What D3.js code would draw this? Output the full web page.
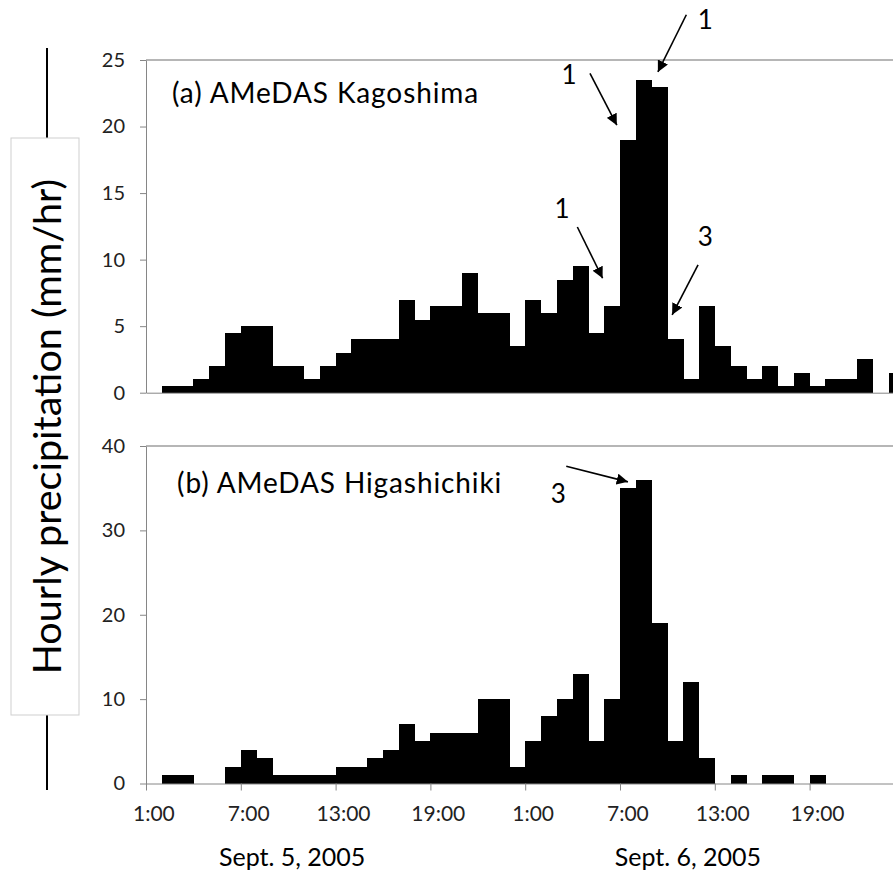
<!DOCTYPE html>
<html>
<head>
<meta charset="utf-8">
<script src="https://cdn.jsdelivr.net/npm/d3@7"></script>
<style>
  body { margin: 0; background: #fff; }
  svg { display: block; font-family: Lato, "Open Sans", sans-serif; }
</style>
</head>
<body>
<svg width="893" height="872"></svg>
<script>
// hourly bins starting 1:00 Sept 5 (48 hours)
const hours = d3.range(48).map(i => ((i + 1) % 24) + ":00");

const kagoshima = [0, 0.5, 0.5, 1, 2, 4.5, 5, 5, 2, 2, 1, 2, 3, 4, 4, 4,
  7, 5.5, 6.5, 6.5, 9, 6, 6, 3.5, 7, 6, 8.5, 9.5, 4.5, 6.5, 19, 23.5,
  23, 4, 1, 6.5, 3.5, 2, 1, 2, 0.5, 1.5, 0.5, 1, 1, 2.5, 0, 1.5];

const higashichiki = [0, 1, 1, 0, 0, 2, 4, 3, 1, 1, 1, 1, 2, 2, 3, 4,
  7, 5, 6, 6, 6, 10, 10, 2, 5, 8, 10, 13, 5, 10, 35, 36,
  19, 5, 12, 3, 0, 1, 0, 1, 1, 0, 1, 0, 0, 0, 0, 0];

const ticksA = [0, 5, 10, 15, 20, 25];
const ticksB = [0, 10, 20, 30, 40];
const dateLabels = [{ pos: 9.25, text: "Sept. 5, 2005" }, { pos: 34.3, text: "Sept. 6, 2005" }];

// annotations: [bin position, value] for label, arrow start, arrow tip
const notesA = [
  { t: "1", label: [26.77, 23.2], from: [28.1, 24.0], to: [29.8, 20.1] },
  { t: "1", label: [26.33, 13.1], from: [27.3, 12.45], to: [28.9, 8.6] },
  { t: "1", label: [35.4, 27.3], from: [34.2, 28.4], to: [32.4, 24.1] },
  { t: "3", label: [35.4, 11.0], from: [34.94, 9.6], to: [33.3, 5.85] }
];
const notesB = [
  { t: "3", label: [26.1, 33.2], from: [26.6, 37.6], to: [30.5, 35.75] }
];

const svg = d3.select("svg");
const left = 146, binW = 15.8;

const x = d3.scaleBand().domain(d3.range(48)).range([left, left + binW * 48]).padding(0);
const xLin = d3.scaleLinear().domain([0, 48]).range([left, left + binW * 48]);

const yA = d3.scaleLinear().domain([0, 25]).range([392.7, 60]);
const yB = d3.scaleLinear().domain([0, 40]).range([783.5, 446]);

svg.append("defs").append("marker")
  .attr("id", "head")
  .attr("viewBox", "0 0 10 10")
  .attr("refX", 10).attr("refY", 5)
  .attr("markerWidth", 7).attr("markerHeight", 7)
  .attr("markerUnits", "strokeWidth")
  .attr("orient", "auto")
  .append("path").attr("d", "M0,0L10,5L0,10z").attr("fill", "#000");

function panel(values, y, ticks, title, titleY, notes, showX) {
  const g = svg.append("g");

  // top border
  g.append("line")
    .attr("x1", left).attr("x2", 893)
    .attr("y1", y.range()[1]).attr("y2", y.range()[1])
    .attr("stroke", "#6e6e6e").attr("stroke-width", 1.2);

  g.selectAll("rect")
    .data(values)
    .join("rect")
    .attr("x", (d, i) => x(i))
    .attr("width", x.bandwidth() + 0.4)
    .attr("y", d => y(d))
    .attr("height", d => y(0) - y(d))
    .attr("fill", "#000")
    .attr("shape-rendering", "crispEdges");

  const ya = g.append("g")
    .attr("transform", `translate(${left},0)`)
    .call(d3.axisLeft(y).tickValues(ticks).tickSize(6).tickPadding(15).tickSizeOuter(0));
  ya.select(".domain").attr("stroke", "#868686");
  ya.selectAll(".tick line").attr("stroke", "#868686");
  ya.selectAll(".tick text").attr("font-size", 20).attr("fill", "#222")
    .attr("font-family", "Lato, sans-serif");

  const xa = g.append("g")
    .attr("transform", `translate(0,${y(0)})`)
    .call(d3.axisBottom(xLin).tickValues(showX ? d3.range(0, 49, 6) : []).tickSize(7).tickSizeOuter(0).tickFormat(""));
  xa.select(".domain").attr("stroke", "#868686");
  xa.selectAll(".tick line").attr("stroke", "#868686");

  if (showX) {
    const xl = g.append("g")
      .attr("transform", `translate(0,${y(0)})`)
      .call(d3.axisBottom(x).tickValues(d3.range(0, 48, 6)).tickSize(0).tickPadding(23)
        .tickFormat(i => hours[i]));
    xl.select(".domain").remove();
    xl.selectAll(".tick text").attr("font-size", 21).attr("fill", "#222")
      .attr("font-family", "Lato, sans-serif");
  }

  g.append("text")
    .attr("x", title.x).attr("y", titleY)
    .attr("font-size", 28).attr("letter-spacing", 0.9).attr("fill", "#000")
    .text(title.text);

  notes.forEach(n => {
    g.append("line")
      .attr("x1", xLin(n.from[0])).attr("y1", y(n.from[1]))
      .attr("x2", xLin(n.to[0])).attr("y2", y(n.to[1]))
      .attr("stroke", "#000").attr("stroke-width", 1.6)
      .attr("marker-end", "url(#head)");
    g.append("text")
      .attr("x", xLin(n.label[0])).attr("y", y(n.label[1]))
      .attr("text-anchor", "middle")
      .attr("font-size", 26).attr("fill", "#000")
      .text(n.t);
  });
}

panel(kagoshima, yA, ticksA, { x: 172, text: "(a) AMeDAS Kagoshima" }, 103, notesA, false);
panel(higashichiki, yB, ticksB, { x: 177, text: "(b) AMeDAS Higashichiki" }, 493, notesB, true);

// date labels
svg.selectAll(".date")
  .data(dateLabels)
  .join("text")
  .attr("class", "date")
  .attr("x", d => xLin(d.pos))
  .attr("y", 866)
  .attr("text-anchor", "middle")
  .attr("font-size", 25)
  .attr("fill", "#000")
  .text(d => d.text);

// y axis title with box and leader lines
svg.append("line").attr("x1", 47).attr("x2", 47).attr("y1", 48).attr("y2", 138)
  .attr("stroke", "#000").attr("stroke-width", 2);
svg.append("line").attr("x1", 47).attr("x2", 47).attr("y1", 715).attr("y2", 790)
  .attr("stroke", "#000").attr("stroke-width", 2);
svg.append("rect").attr("x", 11).attr("y", 138).attr("width", 68).attr("height", 577)
  .attr("fill", "#fff").attr("stroke", "#cfcfcf");
svg.append("text")
  .attr("transform", "translate(61,426.5) rotate(-90)")
  .attr("text-anchor", "middle")
  .attr("font-size", 39.5)
  .attr("fill", "#000")
  .text("Hourly precipitation (mm/hr)");
</script>
</body>
</html>
